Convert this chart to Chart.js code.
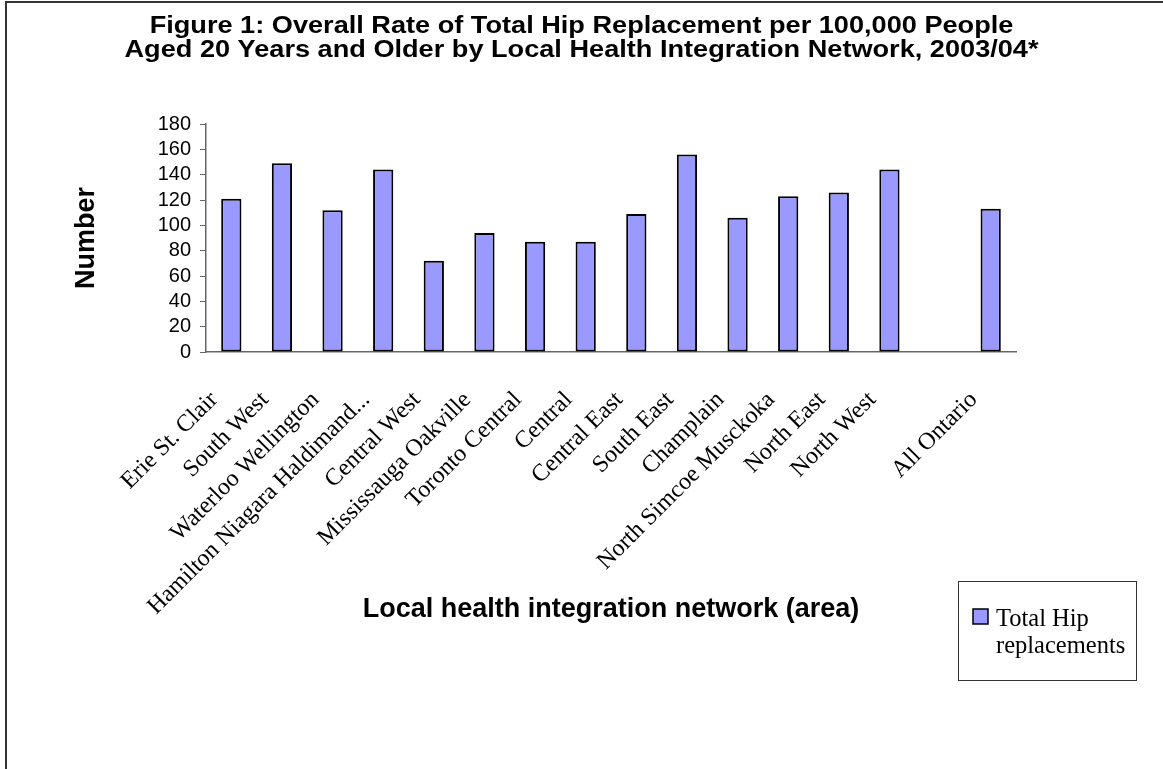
<!DOCTYPE html>
<html lang="en">
<head>
    <meta charset="UTF-8">
    <title>Total Hip Replacement by LHIN</title>
    <script src="https://cdn.jsdelivr.net/npm/chart.js"></script>
    <style>
        body { margin: 0; background: #fff; }
        #chart-container { width: 1163px; height: 769px; position: relative; }
    </style>
</head>
<body>
    <div id="chart-container">
        <canvas id="barChart"></canvas>
    </div>
    <script>
        // LHIN areas (blank slot keeps a gap before the provincial total)
        var areas = [
            'Erie St. Clair', 'South West', 'Waterloo Wellington', 'Hamilton Niagara Haldimand...',
            'Central West', 'Mississauga Oakville', 'Toronto Central', 'Central', 'Central East',
            'South East', 'Champlain', 'North Simcoe Musckoka', 'North East', 'North West',
            '', 'All Ontario'
        ];
        // rate per 100,000 people aged 20+
        var hipRates = [121, 149, 112, 144, 72, 94, 87, 87, 109, 156, 106, 123, 126, 144, null, 113];
        var yTicks = [0, 20, 40, 60, 80, 100, 120, 140, 160, 180];

        var titleLines = [
            'Figure 1: Overall Rate of Total Hip Replacement per 100,000 People',
            'Aged 20 Years and Older by Local Health Integration Network, 2003/04*'
        ];

        var sans = "'Liberation Sans', Arial, sans-serif";
        var serif = "'Liberation Serif', 'Times New Roman', serif";
        var barColor = '#9999FF';

        // frame (top and left edges), stretched two-line title, boxed legend
        var framePlugin = {
            id: 'frame',
            beforeDraw: function(chart) {
                var ctx = chart.ctx;
                ctx.save();
                ctx.strokeStyle = '#333';
                ctx.lineWidth = 2;
                ctx.beginPath();
                ctx.moveTo(6, 769);
                ctx.lineTo(6, 2);
                ctx.lineTo(1163, 2);
                ctx.stroke();

                // title text is wide and short, so widen the glyphs a bit
                ctx.fillStyle = '#000';
                ctx.font = 'bold 23px ' + sans;
                ctx.textAlign = 'center';
                ctx.textBaseline = 'middle';
                for (var k = 0; k < titleLines.length; k++) {
                    ctx.save();
                    ctx.translate(chart.width / 2, 27 + k * 24);
                    ctx.scale(1.18, 1);
                    ctx.fillText(titleLines[k], 0, 0);
                    ctx.restore();
                }
                ctx.restore();
            },
            afterDraw: function(chart) {
                var ctx = chart.ctx;
                var ds = chart.data.datasets[0];
                ctx.save();
                ctx.strokeStyle = '#333';
                ctx.lineWidth = 1;
                ctx.strokeRect(958.5, 581.5, 178, 99);

                ctx.fillStyle = ds.backgroundColor;
                ctx.fillRect(973, 609, 15, 15);
                ctx.strokeStyle = '#000';
                ctx.lineWidth = 1.5;
                ctx.strokeRect(973, 609, 15, 15);

                // wrap the series name into the box
                ctx.fillStyle = '#000';
                ctx.font = '24.5px ' + serif;
                ctx.textBaseline = 'alphabetic';
                var words = ds.label.split(' ');
                var lines = [];
                var line = '';
                for (var i = 0; i < words.length; i++) {
                    var test = line ? line + ' ' + words[i] : words[i];
                    if (ctx.measureText(test).width > 136 && line) {
                        lines.push(line);
                        line = words[i];
                    } else {
                        line = test;
                    }
                }
                lines.push(line);
                for (var j = 0; j < lines.length; j++) {
                    ctx.fillText(lines[j], 996, 626 + j * 27);
                }
                ctx.restore();
            }
        };

        var ctx = document.getElementById('barChart').getContext('2d');
        var myBarChart = new Chart(ctx, {
            type: 'bar',
            data: {
                labels: areas,
                datasets: [{
                    label: 'Total Hip replacements',
                    data: hipRates,
                    backgroundColor: barColor,
                    borderColor: '#000',
                    borderWidth: 2,
                    borderSkipped: false,
                    categoryPercentage: 1.0,
                    barPercentage: 0.4
                }]
            },
            options: {
                responsive: true,
                maintainAspectRatio: false,
                animation: false,
                layout: {
                    padding: { left: 0, top: 124, right: 147, bottom: 0 }
                },
                plugins: {
                    legend: { display: false },
                    tooltip: { enabled: false },
                    title: { display: false }
                },
                scales: {
                    x: {
                        type: 'category',
                        position: 'bottom',
                        grid: { display: false },
                        border: { display: true, color: '#666', width: 1.5 },
                        ticks: {
                            autoSkip: false,
                            maxRotation: 45,
                            minRotation: 45,
                            color: '#000',
                            padding: 26,
                            labelOffset: -17,
                            font: { family: serif, size: 24 }
                        },
                        title: {
                            display: true,
                            text: 'Local health integration network (area)',
                            color: '#000',
                            font: { family: sans, size: 27, weight: 'bold', lineHeight: 1.0 },
                            padding: { top: 0, bottom: 146 }
                        },
                        afterFit: function(scale) { scale.height = 417; }
                    },
                    y: {
                        min: 0,
                        max: 180,
                        afterBuildTicks: function(scale) {
                            scale.ticks = yTicks.map(function(v) { return { value: v }; });
                        },
                        grid: {
                            display: true,
                            drawOnChartArea: false,
                            drawTicks: true,
                            tickLength: 6,
                            color: '#666'
                        },
                        border: { display: true, color: '#666', width: 1.5 },
                        ticks: {
                            autoSkip: false,
                            color: '#000',
                            padding: 9,
                            font: { family: sans, size: 20 }
                        },
                        title: {
                            display: true,
                            text: 'Number',
                            color: '#000',
                            font: { family: sans, size: 27, weight: 'bold', lineHeight: 1.0 },
                            padding: { top: 73, bottom: 0 }
                        },
                        afterFit: function(scale) { scale.width = 206; }
                    }
                }
            },
            plugins: [framePlugin]
        });
    </script>
</body>
</html>
